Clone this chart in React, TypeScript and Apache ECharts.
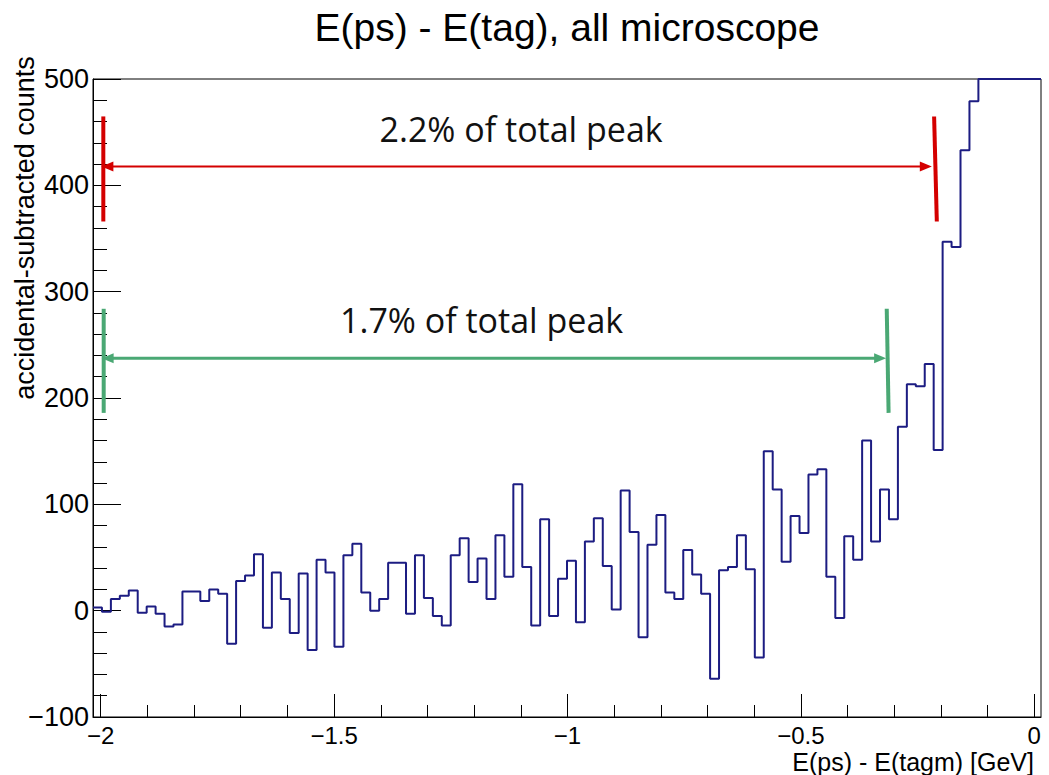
import React, { useEffect, useRef } from "react";
import * as echarts from "echarts";

const titleText = "E(ps) - E(tag), all microscope";
const xAxisTitle = "E(ps) - E(tagm) [GeV]";
const yAxisTitle = "accidental-subtracted counts";

// histogram binning
const xMin = -2.0165;
const xMax = 0.0145;
const binCount = 106;

// bin contents (last 7 bins are clipped at the frame top, drawn at 500)
const binValues = [
  3, -1, 11, 14, 19, -2, 4, -3, -15, -13,
  18, 18, 9, 20, 16, -31, 28, 33, 53, -16,
  36, 11, -21, 35, -37, 48, 36, -34, 52, 63,
  17, 0, 11, 45, 45, -3, 52, 12, -5, -14,
  52, 68, 27, 49, 11, 71, 32, 119, 41, -14,
  86, -5, 30, 47, -11, 65, 87, 42, 1, 113,
  74, -25, 62, 90, 17, 11, 57, 34, 16, -64,
  38, 41, 71, 39, -44, 150, 114, 46, 89, 73,
  128, 133, 32, -7, 70, 48, 160, 65, 114, 86,
  173, 213, 211, 232, 151, 347, 342, 433, 479,
  500, 500, 500, 500, 500, 500, 500,
];

const xMajorTicks = [-2, -1.5, -1, -0.5, 0];
const xMinorTicks = [-1.9, -1.8, -1.7, -1.6, -1.4, -1.3, -1.2, -1.1, -0.9, -0.8, -0.7, -0.6, -0.4, -0.3, -0.2, -0.1];
const yMin = -100;
const yMax = 500;
const yStep = 100;

// annotations in data coordinates
const redLabel = "2.2% of total peak";
const greenLabel = "1.7% of total peak";
const redArrow = { y: 417.8, x0: -1.9985, x1: -0.2194 };
const redBars = [
  [[-1.9944, 464.8], [-1.9944, 366.0]],
  [[-0.2145, 464.8], [-0.2087, 366.0]],
];
const redText = [-1.0993, 453];
const greenArrow = { y: 237.5, x0: -1.998, x1: -0.3173 };
const greenBars = [
  [[-1.9936, 283.9], [-1.9936, 186.0]],
  [[-0.316, 283.9], [-0.312, 186.0]],
];
const greenText = [-1.184, 273];

const RED = "#d40000";
const GREEN = "#4aa874";
const NAVY = "#1c1c82";
const ROOTFONT = "'Liberation Sans', Arial, sans-serif";
const NOTEFONT = "'Open Sans', Lato, sans-serif";

const minus = (v: number) => String(v).replace("-", "\u2212");

export default function App() {
  const ref = useRef<HTMLDivElement>(null);
  useEffect(() => {
    if (!ref.current) return;
    const chart = echarts.init(ref.current, undefined, { renderer: "svg" });
    const binWidth = (xMax - xMin) / binCount;
    const stepData: number[][] = [];
    binValues.forEach((v, i) => {
      const x0 = xMin + i * binWidth;
      stepData.push([x0, v], [x0 + binWidth, v]);
    });

    chart.setOption({
      animation: false,
      backgroundColor: "#ffffff",
      grid: {
        left: 93,
        right: 8,
        top: 79,
        bottom: 58,
        show: true,
        borderColor: "#000",
        borderWidth: 1,
        backgroundColor: "transparent",
      },
      xAxis: [
        {
          type: "value",
          min: xMin,
          max: xMax,
          position: "bottom",
          axisLine: { show: true, onZero: false, lineStyle: { color: "#000", width: 1 } },
          axisTick: { show: true, inside: true, length: 23, customValues: xMajorTicks, lineStyle: { color: "#000" } },
          axisLabel: {
            show: true,
            customValues: xMajorTicks,
            formatter: (v: number) => minus(v),
            color: "#000",
            fontFamily: ROOTFONT,
            fontSize: 24,
            margin: 6,
          },
          splitLine: { show: false },
        },
        {
          type: "value",
          min: xMin,
          max: xMax,
          position: "bottom",
          axisLine: { show: false, onZero: false },
          axisTick: { show: true, inside: true, length: 12, customValues: xMinorTicks, lineStyle: { color: "#000" } },
          axisLabel: { show: false },
          splitLine: { show: false },
        },
      ],
      yAxis: {
        type: "value",
        min: yMin,
        max: yMax,
        interval: yStep,
        axisLine: { show: true, onZero: false, lineStyle: { color: "#000", width: 1 } },
        axisTick: { show: true, inside: true, length: 28, lineStyle: { color: "#000" } },
        minorTick: { show: true, splitNumber: 5, length: 14, lineStyle: { color: "#000" } },
        axisLabel: {
          formatter: (v: number) => minus(v),
          color: "#000",
          fontFamily: ROOTFONT,
          fontSize: 27,
          margin: 4,
        },
        splitLine: { show: false },
      },
      series: [
        {
          type: "line",
          data: stepData,
          showSymbol: false,
          symbol: "none",
          clip: true,
          lineStyle: { color: NAVY, width: 2 },
        },
      ],
    });

    const P = (pt: number[]) => chart.convertToPixel({ xAxisIndex: 0, yAxisIndex: 0 }, pt) as number[];
    const arrowHead = (tip: number[], dir: number, color: string) => ({
      type: "polygon",
      shape: { points: [tip, [tip[0] - dir * 12, tip[1] - 5], [tip[0] - dir * 12, tip[1] + 5]] },
      style: { fill: color },
      z: 10,
    });
    const annot = (arrow: any, bars: number[][][], color: string, lw: number, label: string, tpos: number[]) => {
      const a0 = P([arrow.x0, arrow.y]);
      const a1 = P([arrow.x1, arrow.y]);
      const els: any[] = [
        {
          type: "line",
          shape: { x1: a0[0] + 6, y1: a0[1], x2: a1[0] - 6, y2: a1[1] },
          style: { stroke: color, lineWidth: lw },
          z: 10,
        },
        arrowHead(a0, -1, color),
        arrowHead(a1, 1, color),
      ];
      bars.forEach((b) => {
        const p0 = P(b[0]);
        const p1 = P(b[1]);
        els.push({
          type: "line",
          shape: { x1: p0[0], y1: p0[1], x2: p1[0], y2: p1[1] },
          style: { stroke: color, lineWidth: 4 },
          z: 10,
        });
      });
      const tp = P(tpos);
      els.push({
        type: "text",
        x: tp[0],
        y: tp[1],
        style: {
          text: label,
          fill: "#111",
          font: `400 34px ${NOTEFONT}`,
          align: "center",
          verticalAlign: "middle",
        },
        z: 11,
      });
      return els;
    };

    chart.setOption({
      graphic: [
        {
          type: "text",
          x: 567,
          y: 27,
          style: { text: titleText, fill: "#000", font: `39px ${ROOTFONT}`, align: "center", verticalAlign: "middle" },
        },
        {
          type: "text",
          x: 25,
          y: 228,
          rotation: Math.PI / 2,
          style: { text: yAxisTitle, fill: "#000", font: `27px ${ROOTFONT}`, align: "center", verticalAlign: "middle" },
        },
        {
          type: "text",
          x: 1034,
          y: 762,
          style: { text: xAxisTitle, fill: "#000", font: `25px ${ROOTFONT}`, align: "right", verticalAlign: "middle" },
        },
        ...annot(redArrow, redBars, RED, 2, redLabel, redText),
        ...annot(greenArrow, greenBars, GREEN, 3, greenLabel, greenText),
      ],
    });

    return () => chart.dispose();
  }, []);
  return (
    <div
      ref={ref}
      style={{ position: "fixed", left: 0, top: 0, width: 1049, height: 775, background: "#fff" }}
    />
  );
}
